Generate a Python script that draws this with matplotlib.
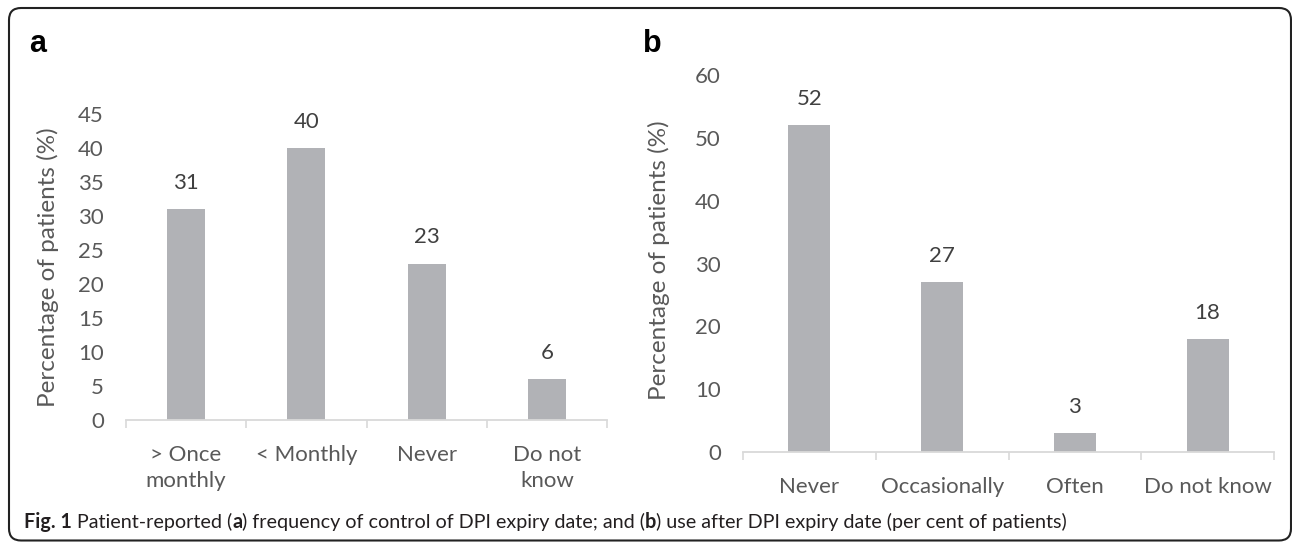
import numpy as np
import matplotlib
matplotlib.use('Agg')
import matplotlib.pyplot as plt
from matplotlib.patches import FancyBboxPatch

# data
cats_a = ['> Once\nmonthly', '< Monthly', 'Never', 'Do not\nknow']
vals_a = [31, 40, 23, 6]
yticks_a = [0, 5, 10, 15, 20, 25, 30, 35, 40, 45]

cats_b = ['Never', 'Occasionally', 'Often', 'Do not know']
vals_b = [52, 27, 3, 18]
yticks_b = [0, 10, 20, 30, 40, 50, 60]

ylabel = 'Percentage of patients (%)'
caption = [('Fig. 1', 'bold'), (' Patient-reported (', 'normal'), ('a', 'bold'),
           (') frequency of control of DPI expiry date; and (', 'normal'), ('b', 'bold'),
           (') use after DPI expiry date (per cent of patients)', 'normal')]

plt.rcParams['font.family'] = ['Lato', 'DejaVu Sans']
GREY = '#595959'; AXC = '#d9d9d9'; BAR = '#b1b2b6'
FS = 16

W, H = 1292, 542
fig = plt.figure(figsize=(W / 100, H / 100), dpi=100)

def px(x0, y0, x1, y1):
    # pixel box (top-left origin) -> figure fraction
    return [x0 / W, 1 - y1 / H, (x1 - x0) / W, (y1 - y0) / H]

def panel(ax, cats, vals, yticks, lab_x, lab_y):
    x = np.arange(len(cats))
    ax.bar(x, vals, width=0.315, color=BAR)
    ax.set_xlim(-0.5, len(cats) - 0.5); ax.set_ylim(yticks[0], yticks[-1])
    ax.set_xticks(x); ax.set_xticklabels(cats, linespacing=1.4)
    ax.set_xticks(np.arange(-0.5, len(cats)), minor=True)
    ax.tick_params(axis='x', which='major', length=0, pad=18, labelsize=FS, labelcolor=GREY)
    ax.tick_params(axis='x', which='minor', length=6, width=1.2, color=AXC)
    ax.set_yticks(yticks)
    ax.tick_params(axis='y', length=0, pad=16, labelsize=FS, labelcolor=GREY)
    for s in ['top', 'right', 'left']:
        ax.spines[s].set_visible(False)
    ax.spines['bottom'].set_color(AXC); ax.spines['bottom'].set_linewidth(1.3)
    for xi, v in zip(x, vals):
        ax.annotate(str(v), (xi, v), xytext=(0, 19), textcoords='offset points',
                    ha='center', va='center', fontsize=FS, color='#404040')
    ax.set_ylabel(ylabel, fontsize=17.5, color=GREY)
    ax.yaxis.set_label_coords(lab_x, lab_y)

ax_a = fig.add_axes(px(126, 114, 607, 420))
panel(ax_a, cats_a, vals_a, yticks_a, -0.139, 0.498)
ax_b = fig.add_axes(px(743, 75, 1274, 452))
panel(ax_b, cats_b, vals_b, yticks_b, -0.137, 0.51)

# panel letters
fig.text(29 / W, 1 - 52 / H, 'a', fontsize=22, weight='bold', family='Liberation Sans', va='baseline')
fig.text(643 / W, 1 - 52 / H, 'b', fontsize=22, weight='bold', family='Liberation Sans', va='baseline')

# caption, pieces laid out one after another
r = fig.canvas.get_renderer()
cx = 24
for s, w in caption:
    t = fig.text(cx / W, 1 - 528 / H, s, fontsize=14.2, weight=w, color='#231f20', va='baseline')
    cx = t.get_window_extent(r).x1

# rounded frame
frame = FancyBboxPatch((0.09, 0.015), 12.82, 5.325, boxstyle='round,pad=0,rounding_size=0.12',
                       transform=fig.dpi_scale_trans, fill=False, lw=1.5, ec='#222222')
fig.add_artist(frame)

fig.savefig('out.png', dpi=100)
